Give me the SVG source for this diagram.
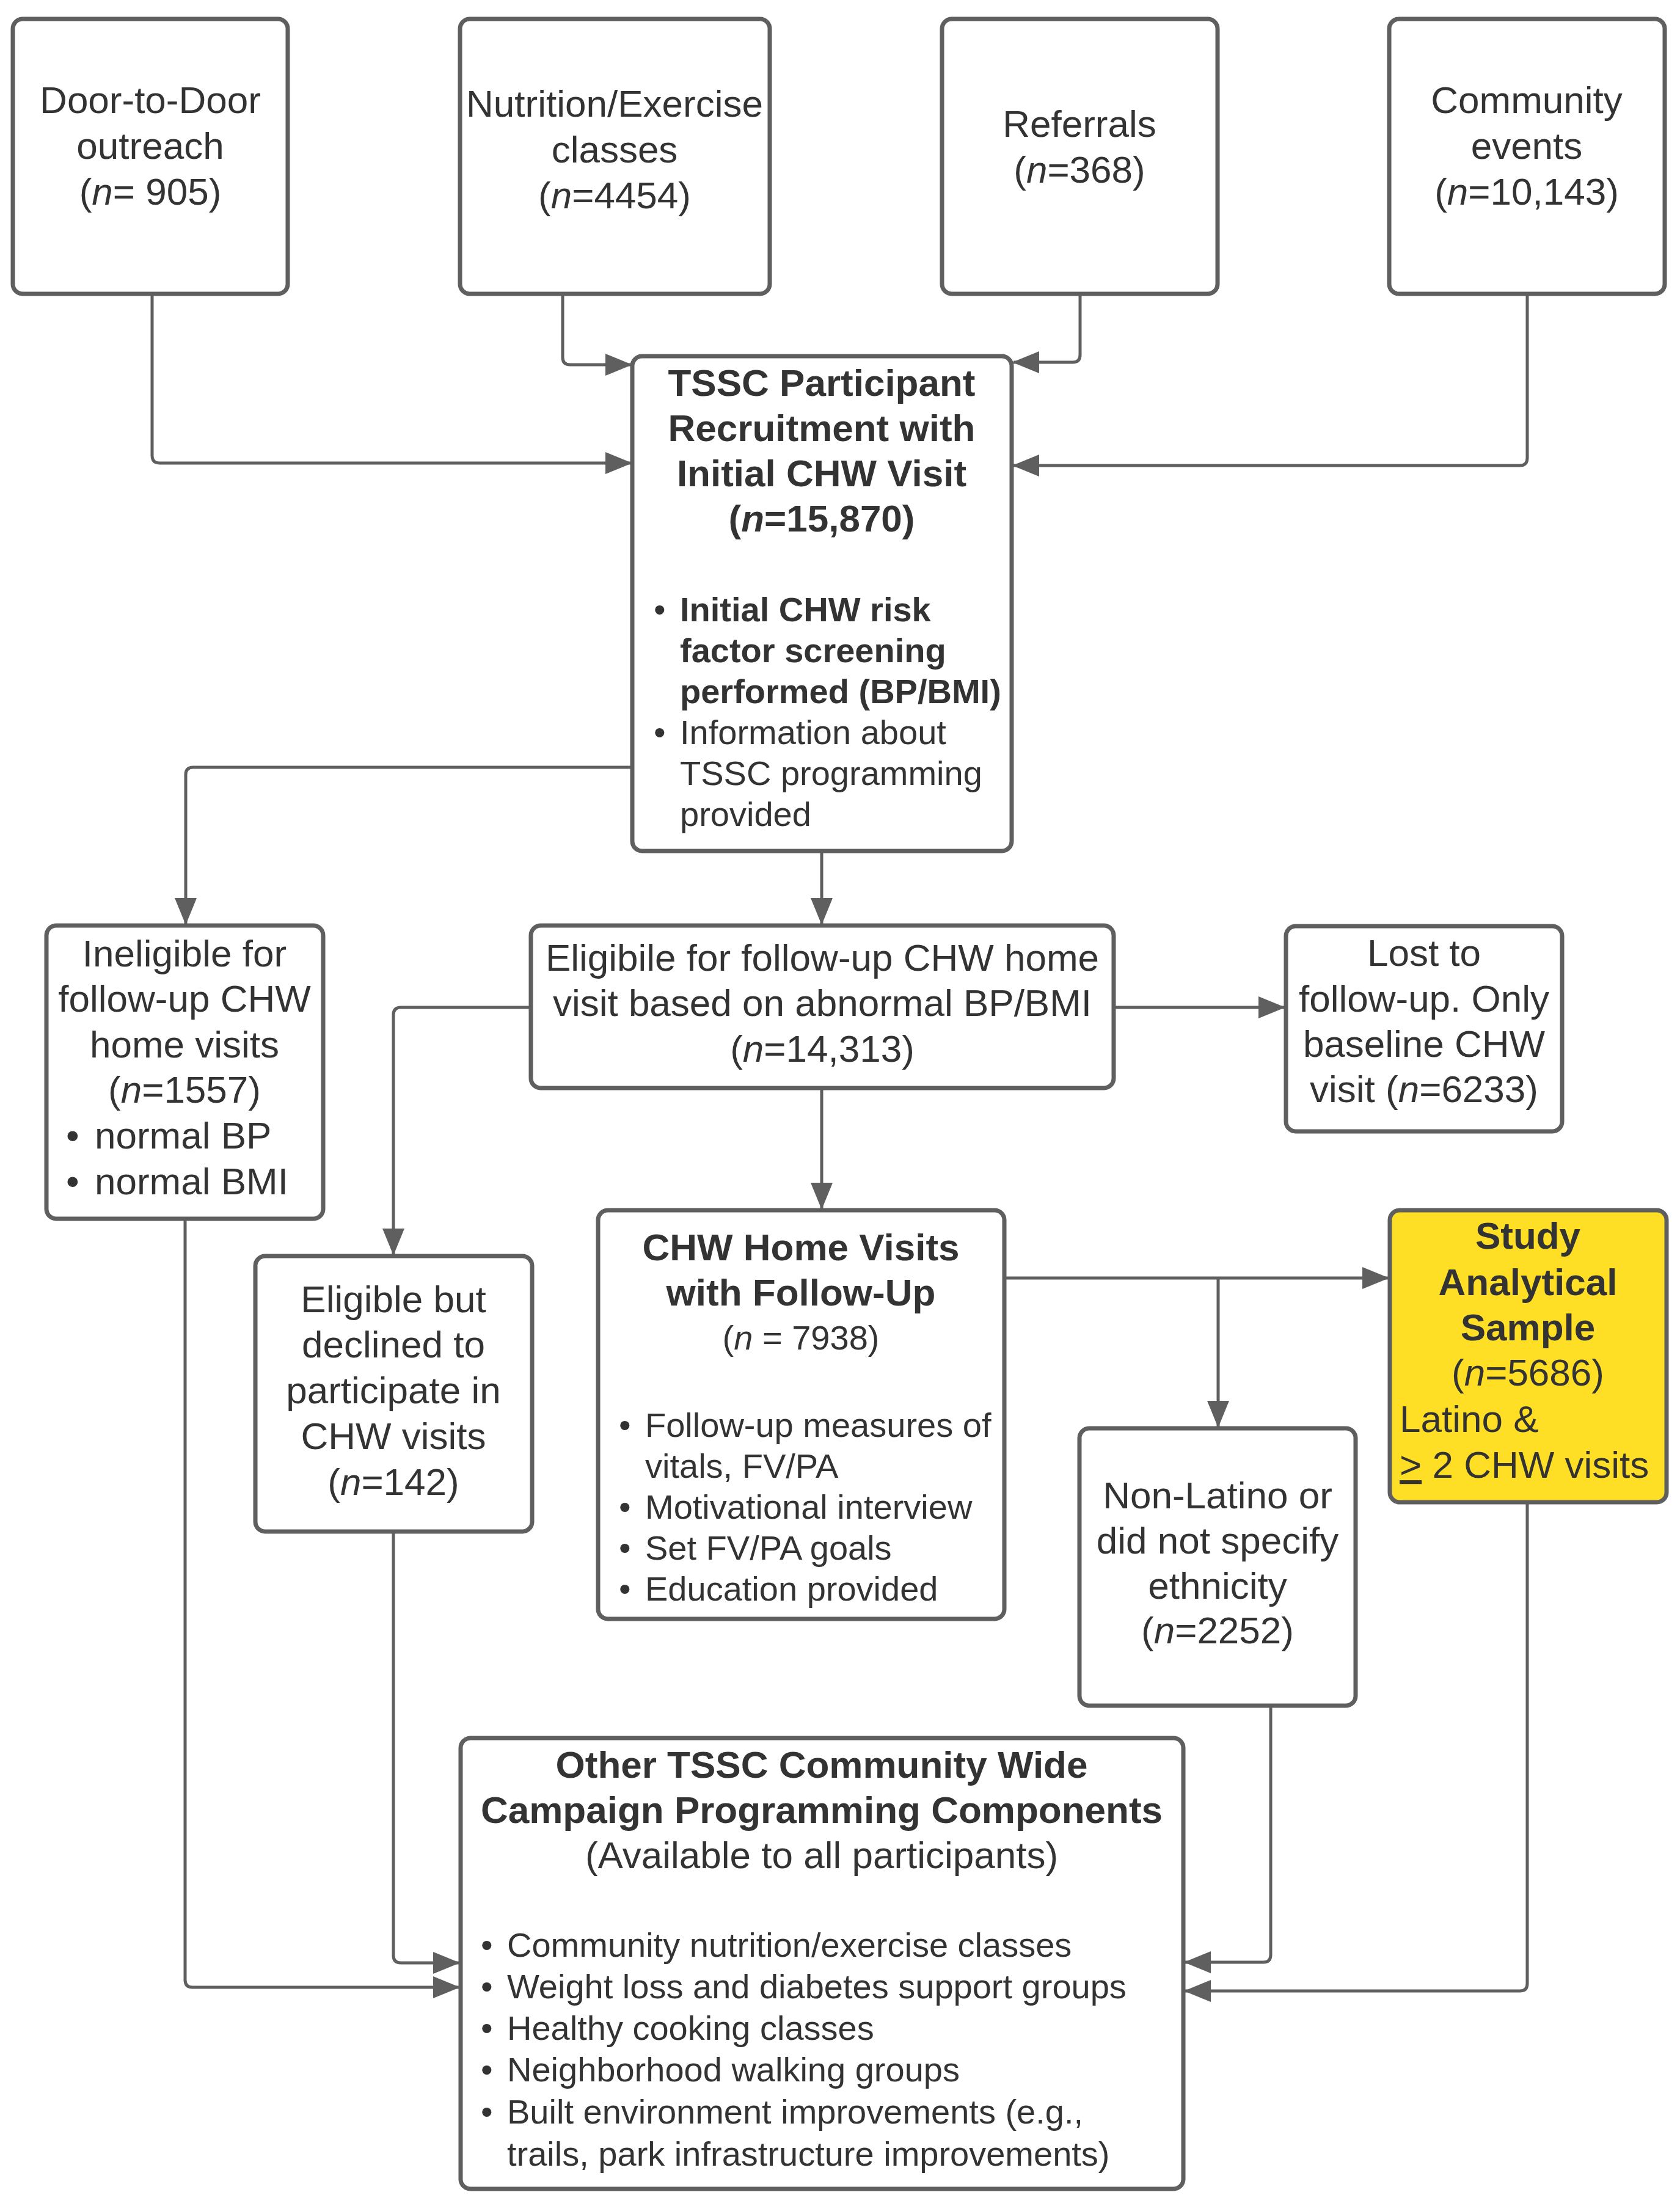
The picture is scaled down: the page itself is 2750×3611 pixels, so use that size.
<svg xmlns="http://www.w3.org/2000/svg" width="2750" height="3611" viewBox="0 0 2750 3611">
<style>
.box{fill:#ffffff;stroke:#5f5f5f;stroke-width:7}
.yel{fill:#ffdf26;stroke:#5f5f5f;stroke-width:7}
.t{font-family:"Liberation Sans",Arial,sans-serif;font-size:62px;fill:#333333;text-anchor:middle}
.b{font-weight:bold}
.s{font-family:"Liberation Sans",Arial,sans-serif;font-size:56px;fill:#333333}
.l{font-family:"Liberation Sans",Arial,sans-serif;font-size:62px;fill:#333333}
.c{fill:none;stroke:#5f5f5f;stroke-width:5;marker-end:url(#ah)}
</style>
<defs>
<marker id="ah" markerUnits="userSpaceOnUse" viewBox="0 0 44 36" markerWidth="44" markerHeight="36" refX="42" refY="18" orient="auto">
<path d="M0,0 L44,18 L0,36 z" fill="#5f5f5f"/>
</marker>
</defs>
<rect width="2750" height="3611" fill="#ffffff"/>
<g id="connectors">
<path class="c" d="M249 481 V746 Q249 758 261 758 H1033"/>
<path class="c" d="M921 481 V585 Q921 597 933 597 H1033"/>
<path class="c" d="M1768 481 V581 Q1768 593 1756 593 H1659"/>
<path class="c" d="M2500 481 V750 Q2500 762 2488 762 H1659"/>
<path class="c" d="M1035 1256 H316 Q304 1256 304 1268 V1512"/>
<path class="c" d="M1345 1393 V1512"/>
<path class="c" d="M1823 1649 H2102"/>
<path class="c" d="M869 1649 H656 Q644 1649 644 1661 V2053"/>
<path class="c" d="M1345 1781 V1978"/>
<path class="c" d="M1644 2092 H2272"/>
<path class="c" d="M1994 2092 V2335"/>
<path class="c" d="M303 1995 V3241 Q303 3253 315 3253 H751"/>
<path class="c" d="M644 2507 V3201 Q644 3213 656 3213 H751"/>
<path class="c" d="M2080 2792 V3200 Q2080 3212 2068 3212 H1940"/>
<path class="c" d="M2500 2459 V3247 Q2500 3259 2488 3259 H1940"/>
</g>
<g id="door">
<rect class="box" x="21" y="31" width="450" height="450" rx="16"/>
<text class="t" x="246" y="185">Door-to-Door</text>
<text class="t" x="246" y="260">outreach</text>
<text class="t" x="246" y="335">(<tspan font-style="italic">n</tspan>= 905)</text>
</g>
<g id="nutrition">
<rect class="box" x="753" y="31" width="507" height="450" rx="16"/>
<text class="t" x="1006" y="191">Nutrition/Exercise</text>
<text class="t" x="1006" y="266">classes</text>
<text class="t" x="1006" y="341">(<tspan font-style="italic">n</tspan>=4454)</text>
</g>
<g id="referrals">
<rect class="box" x="1542" y="31" width="451" height="450" rx="16"/>
<text class="t" x="1767" y="224">Referrals</text>
<text class="t" x="1767" y="299">(<tspan font-style="italic">n</tspan>=368)</text>
</g>
<g id="community">
<rect class="box" x="2274" y="31" width="451" height="450" rx="16"/>
<text class="t" x="2499" y="185">Community</text>
<text class="t" x="2499" y="260">events</text>
<text class="t" x="2499" y="335">(<tspan font-style="italic">n</tspan>=10,143)</text>
</g>
<g id="tssc">
<rect class="box" x="1035" y="583" width="621" height="810" rx="16"/>
<text class="t b" x="1345" y="648">TSSC Participant</text>
<text class="t b" x="1345" y="722">Recruitment with</text>
<text class="t b" x="1345" y="796">Initial CHW Visit</text>
<text class="t b" x="1345" y="870">(<tspan font-style="italic">n</tspan>=15,870)</text>
<text class="s" x="1070" y="1017">•</text>
<text class="s b" x="1113" y="1017">Initial CHW risk</text>
<text class="s b" x="1113" y="1084">factor screening</text>
<text class="s b" x="1113" y="1151">performed (BP/BMI)</text>
<text class="s" x="1070" y="1218">•</text>
<text class="s" x="1113" y="1218">Information about</text>
<text class="s" x="1113" y="1285">TSSC programming</text>
<text class="s" x="1113" y="1352">provided</text>
</g>
<g id="ineligible">
<rect class="box" x="76" y="1515" width="453" height="480" rx="16"/>
<text class="t" x="302" y="1582">Ineligible for</text>
<text class="t" x="302" y="1656">follow-up CHW</text>
<text class="t" x="302" y="1731">home visits</text>
<text class="t" x="302" y="1805">(<tspan font-style="italic">n</tspan>=1557)</text>
<text class="l" x="108" y="1880">•</text>
<text class="l" x="155" y="1880">normal BP</text>
<text class="l" x="108" y="1955">•</text>
<text class="l" x="155" y="1955">normal BMI</text>
</g>
<g id="eligible">
<rect class="box" x="869" y="1515" width="954" height="266" rx="16"/>
<text class="t" x="1346" y="1589">Eligibile for follow-up CHW home</text>
<text class="t" x="1346" y="1663">visit based on abnormal BP/BMI</text>
<text class="t" x="1346" y="1738">(<tspan font-style="italic">n</tspan>=14,313)</text>
</g>
<g id="lost">
<rect class="box" x="2105" y="1516" width="452" height="336" rx="16"/>
<text class="t" x="2331" y="1581">Lost to</text>
<text class="t" x="2331" y="1656">follow-up. Only</text>
<text class="t" x="2331" y="1730">baseline CHW</text>
<text class="t" x="2331" y="1804">visit (<tspan font-style="italic">n</tspan>=6233)</text>
</g>
<g id="declined">
<rect class="box" x="418" y="2056" width="453" height="451" rx="16"/>
<text class="t" x="644" y="2148">Eligible but</text>
<text class="t" x="644" y="2222">declined to</text>
<text class="t" x="644" y="2297">participate in</text>
<text class="t" x="644" y="2372">CHW visits</text>
<text class="t" x="644" y="2447">(<tspan font-style="italic">n</tspan>=142)</text>
</g>
<g id="chw">
<rect class="box" x="979" y="1981" width="665" height="669" rx="16"/>
<text class="t b" x="1311" y="2063">CHW Home Visits</text>
<text class="t b" x="1311" y="2137">with Follow-Up</text>
<text class="s" x="1311" y="2209" text-anchor="middle">(<tspan font-style="italic">n</tspan> = 7938)</text>
<text class="s" x="1013" y="2352">•</text>
<text class="s" x="1056" y="2352">Follow-up measures of</text>
<text class="s" x="1056" y="2419">vitals, FV/PA</text>
<text class="s" x="1013" y="2486">•</text>
<text class="s" x="1056" y="2486">Motivational interview</text>
<text class="s" x="1013" y="2553">•</text>
<text class="s" x="1056" y="2553">Set FV/PA goals</text>
<text class="s" x="1013" y="2620">•</text>
<text class="s" x="1056" y="2620">Education provided</text>
</g>
<g id="study">
<rect class="yel" x="2275" y="1981" width="453" height="478" rx="16"/>
<text class="t b" x="2501" y="2044">Study</text>
<text class="t b" x="2501" y="2120">Analytical</text>
<text class="t b" x="2501" y="2194">Sample</text>
<text class="t" x="2501" y="2268">(<tspan font-style="italic">n</tspan>=5686)</text>
<text class="l" x="2291" y="2344">Latino &amp;</text>
<text class="l" x="2291" y="2419"><tspan text-decoration="underline">&gt;</tspan> 2 CHW visits</text>
</g>
<g id="nonlatino">
<rect class="box" x="1767" y="2338" width="452" height="454" rx="16"/>
<text class="t" x="1993" y="2469">Non-Latino or</text>
<text class="t" x="1993" y="2543">did not specify</text>
<text class="t" x="1993" y="2617">ethnicity</text>
<text class="t" x="1993" y="2690">(<tspan font-style="italic">n</tspan>=2252)</text>
</g>
<g id="other">
<rect class="box" x="754" y="2845" width="1183" height="738" rx="16"/>
<text class="t b" x="1345" y="2910">Other TSSC Community Wide</text>
<text class="t b" x="1345" y="2984">Campaign Programming Components</text>
<text class="t" x="1345" y="3058">(Available to all participants)</text>
<text class="s" x="787" y="3203">•</text>
<text class="s" x="830" y="3203">Community nutrition/exercise classes</text>
<text class="s" x="787" y="3271">•</text>
<text class="s" x="830" y="3271">Weight loss and diabetes support groups</text>
<text class="s" x="787" y="3339">•</text>
<text class="s" x="830" y="3339">Healthy cooking classes</text>
<text class="s" x="787" y="3407">•</text>
<text class="s" x="830" y="3407">Neighborhood walking groups</text>
<text class="s" x="787" y="3476">•</text>
<text class="s" x="830" y="3476">Built environment improvements (e.g.,</text>
<text class="s" x="830" y="3545">trails, park infrastructure improvements)</text>
</g>
</svg>
